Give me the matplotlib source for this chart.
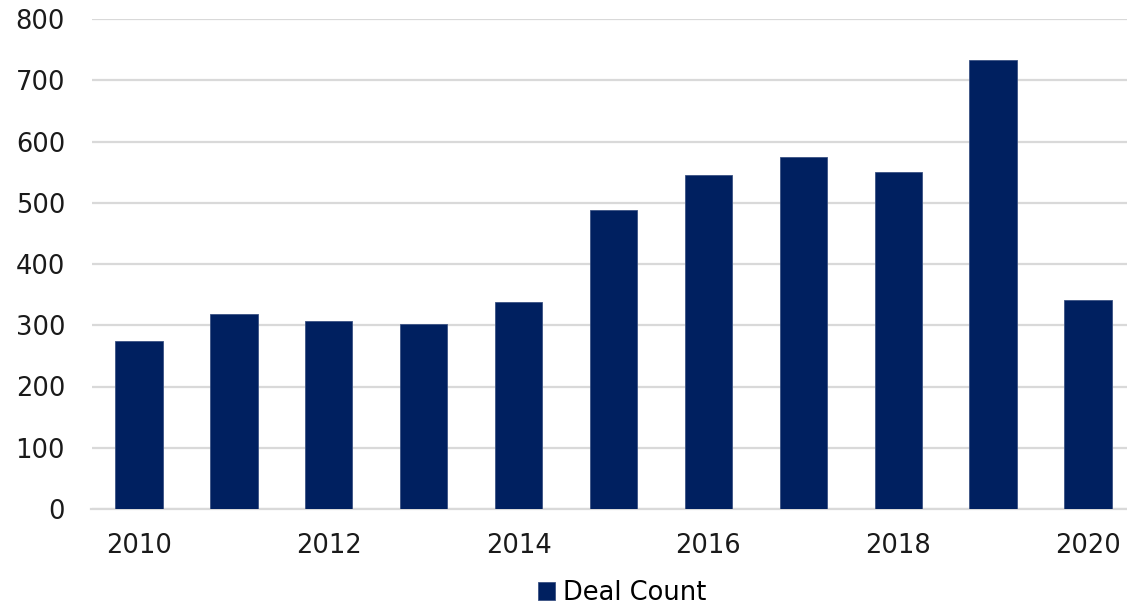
import matplotlib
matplotlib.use("Agg")
import matplotlib.pyplot as plt
import numpy as np

years = [2010, 2011, 2012, 2013, 2014, 2015, 2016, 2017, 2018, 2019, 2020]
deal_count = [274, 319, 307, 302, 338, 488, 545, 575, 551, 733, 341]
yticks = [0, 100, 200, 300, 400, 500, 600, 700, 800]
xtick_labels = ["2010", "2012", "2014", "2016", "2018", "2020"]

plt.rcParams['font.family'] = ['DejaVu Sans']

W, H = 1127, 605
fig = plt.figure(figsize=(W / 100, H / 100), dpi=100)
left = 91.5 / W
bottom = 1 - 509 / H
top = 1 - 19 / H
width = 1044 / W
ax = fig.add_axes([left, bottom, width, top - bottom])

x = np.arange(len(years))
bars = ax.bar(x, deal_count, width=0.5, color="#002060", edgecolor="#3a5283", linewidth=0.6,
              label="Deal Count", zorder=3)

ax.set_ylim(0, 800)
ax.set_xlim(-0.5, len(years) - 0.5)
ax.set_yticks(yticks)
ax.set_yticklabels([str(v) for v in yticks], fontsize=18.5, color="#1a1a1a")
ax.set_xticks(x[::2])
ax.set_xticklabels(xtick_labels, fontsize=18.5, color="#1a1a1a")
ax.tick_params(axis='both', length=0)
ax.tick_params(axis='x', pad=17)
ax.tick_params(axis='y', pad=19)

ax.grid(axis='y', color="#d9d9d9", linewidth=1.6, zorder=0)
for s in ["top", "right", "left"]:
    ax.spines[s].set_visible(False)
ax.spines["bottom"].set_color("#d9d9d9")
ax.spines["bottom"].set_linewidth(1.6)

leg = fig.legend(handles=[bars], labels=["Deal Count"], loc="center",
                 bbox_to_anchor=(622 / W, 1 - 593 / H), frameon=False, fontsize=18.5,
                 handlelength=0.65, handleheight=0.65, handletextpad=0.3)

fig.savefig("out.png", dpi=100)
